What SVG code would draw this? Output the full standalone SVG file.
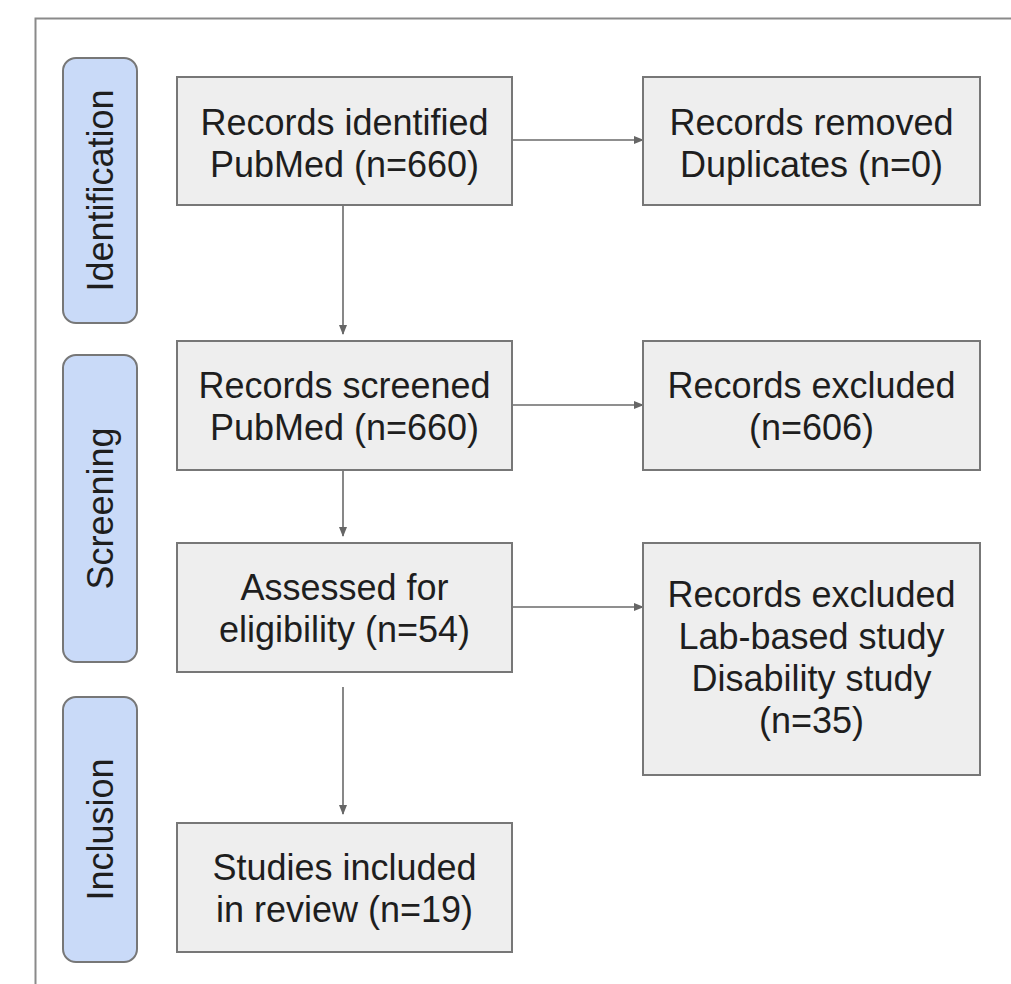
<svg xmlns="http://www.w3.org/2000/svg" width="1011" height="984" viewBox="0 0 1011 984">
<defs>
<marker id="ah" markerWidth="10" markerHeight="8" refX="9" refY="4" orient="auto" markerUnits="userSpaceOnUse">
<path d="M0,0 L10,4 L0,8 Z" fill="#666"/>
</marker>
<style>
.frame{fill:none;stroke:#8a8a8a;stroke-width:2}
.pill{fill:#c9daf8;stroke:#777;stroke-width:2}
.box{fill:#eeeeee;stroke:#777;stroke-width:2}
.t{font-family:"Liberation Sans",Arial,sans-serif;font-size:36px;fill:#1e1e1e;text-anchor:middle}
.c{fill:none;stroke:#6a6a6a;stroke-width:1.6;marker-end:url(#ah)}
</style>
</defs>
<rect width="1011" height="984" fill="#ffffff"/>
<rect class="frame" x="35.5" y="18.5" width="1000" height="1000"/>
<g id="phase-identification">
<rect class="pill" x="63" y="58" width="74" height="265" rx="13"/>
<text class="t" transform="translate(113,190.5) rotate(-90)">Identification</text>
</g>
<g id="phase-screening">
<rect class="pill" x="63" y="355" width="74" height="307" rx="13"/>
<text class="t" transform="translate(113,508.5) rotate(-90)">Screening</text>
</g>
<g id="phase-inclusion">
<rect class="pill" x="63" y="697" width="74" height="265" rx="13"/>
<text class="t" transform="translate(113,829.5) rotate(-90)">Inclusion</text>
</g>
<g id="connectors">
<line class="c" x1="512" y1="140" x2="643" y2="140"/>
<line class="c" x1="343" y1="205" x2="343" y2="334"/>
<line class="c" x1="512" y1="405" x2="643" y2="405"/>
<line class="c" x1="343" y1="470" x2="343" y2="536"/>
<line class="c" x1="512" y1="607" x2="643" y2="607"/>
<line class="c" x1="343" y1="687" x2="343" y2="814"/>
</g>
<g id="records-identified">
<rect class="box" x="177" y="77" width="335" height="128"/>
<text class="t" x="344.5" y="135">Records identified</text>
<text class="t" x="344.5" y="177">PubMed (n=660)</text>
</g>
<g id="records-removed">
<rect class="box" x="643" y="77" width="337" height="128"/>
<text class="t" x="811.5" y="135">Records removed</text>
<text class="t" x="811.5" y="177">Duplicates (n=0)</text>
</g>
<g id="records-screened">
<rect class="box" x="177" y="341" width="335" height="129"/>
<text class="t" x="344.5" y="398">Records screened</text>
<text class="t" x="344.5" y="440">PubMed (n=660)</text>
</g>
<g id="records-excluded-1">
<rect class="box" x="643" y="341" width="337" height="129"/>
<text class="t" x="811.5" y="398">Records excluded</text>
<text class="t" x="811.5" y="440">(n=606)</text>
</g>
<g id="assessed">
<rect class="box" x="177" y="543" width="335" height="129"/>
<text class="t" x="344.5" y="600">Assessed for</text>
<text class="t" x="344.5" y="642">eligibility (n=54)</text>
</g>
<g id="records-excluded-2">
<rect class="box" x="643" y="543" width="337" height="232"/>
<text class="t" x="811.5" y="607">Records excluded</text>
<text class="t" x="811.5" y="649">Lab-based study</text>
<text class="t" x="811.5" y="691">Disability study</text>
<text class="t" x="811.5" y="733">(n=35)</text>
</g>
<g id="studies-included">
<rect class="box" x="177" y="823" width="335" height="129"/>
<text class="t" x="344.5" y="880">Studies included</text>
<text class="t" x="344.5" y="922">in review (n=19)</text>
</g>
</svg>
